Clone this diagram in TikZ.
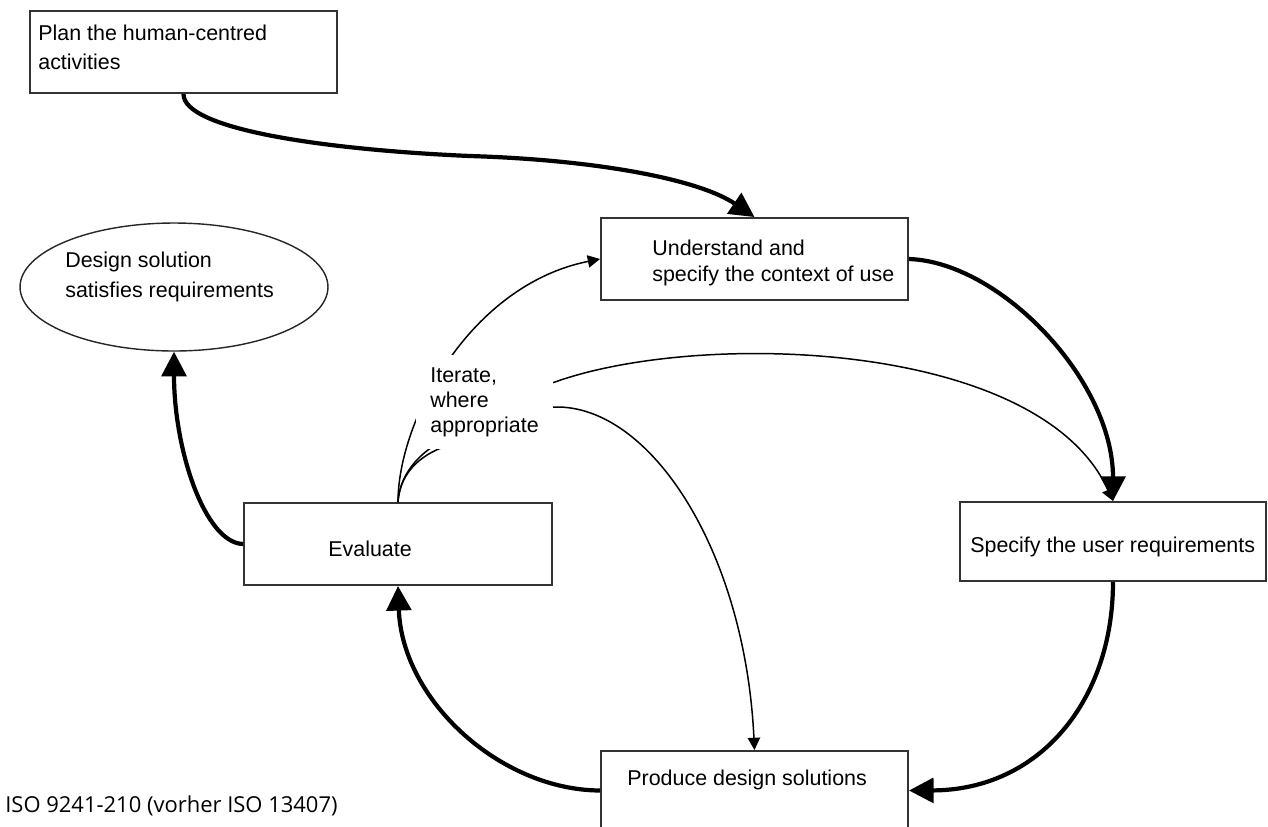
\documentclass[tikz,border=0pt]{standalone}
\usepackage{fontspec}
\setmainfont{Liberation Sans}
\newfontfamily\footfont{Open Sans}
\usetikzlibrary{arrows.meta,shapes.geometric}
\begin{document}
\begin{tikzpicture}[x=0.02cm,y=-0.02cm,
  box/.style={draw=black!80,line width=1.1pt,rectangle,inner sep=0},
  ellbox/.style={draw=black!85,line width=0.8pt,ellipse,inner sep=0},
  txt/.style={inner sep=0,anchor=west,align=left,font=\fontsize{12.2}{16.5}\selectfont},
  mainflow/.style={line width=2.4pt,-{Triangle[length=14pt,width=14pt]}},
  iterflow/.style={line width=0.85pt,-{Triangle[length=7pt,width=7pt]}}]
\clip (0,0) rectangle (1268,826);
\fill[white] (0,0) rectangle (1268,826);

% boxes
\node[box,minimum width=6.14cm,minimum height=1.64cm] (plan) at (183.5,52) {};
\node[box,minimum width=6.14cm,minimum height=1.64cm] (und) at (754.5,259) {};
\node[box,minimum width=6.12cm,minimum height=1.58cm] (spec) at (1113,541.5) {};
\node[box,minimum width=6.16cm,minimum height=1.64cm] (ev) at (398,544) {};
\node[box,minimum width=6.14cm,minimum height=1.58cm] (prod) at (754.5,790.5) {};
\node[ellbox,minimum width=6.16cm,minimum height=2.56cm] (ell) at (174,287) {};

% texts
\node[txt,font=\fontsize{12.2}{16.5}\selectfont] (plant) at (38,47.5) {Plan the human-centred\\activities};
\node[txt,font=\fontsize{12.2}{14.8}\selectfont] (undt) at (652,263) {Understand and\\specify the context of use};
\node[txt] (spect) at (970,547) {Specify the user requirements};
\node[txt] (evt) at (328,549) {Evaluate};
\node[txt] (prodt) at (627,780) {Produce design solutions};
\node[txt,font=\fontsize{12.2}{17}\selectfont] (ellt) at (65,277) {Design solution\\satisfies requirements};

% main cycle
\draw[mainflow] (plan.south) .. controls (183,130) and (330,150) .. (470,156)
  .. controls (600,160) and (700,180) .. (und.north);
\draw[mainflow] (und.east) .. controls (1000,262) and (1113,380) .. (spec.north);
\draw[mainflow] (spec.south) .. controls (1113,700) and (1040,790) .. (prod.east);
\draw[mainflow] (prod.west) .. controls (500,790) and (402,700) .. (ev.south);
\draw[mainflow] (ev.west) .. controls (205,543) and (174,450) .. (ell.south);

% iteration
\draw[iterflow] (ev.north) .. controls (398,420) and (470,285) .. (und.west);
\draw[iterflow] (ev.north) .. controls (400,470) and (425,448) .. (450,437)
  .. controls (490,418) and (520,392) .. (555,382)
  .. controls (700,330) and (1040,340) .. (spec.north);
\draw[iterflow] (ev.north) .. controls (400,470) and (425,452) .. (450,445)
  .. controls (490,432) and (520,407) .. (555,407)
  .. controls (650,405) and (745,550) .. (prod.north);

\node[txt,fill=white,inner xsep=0.28cm,inner ysep=0.24cm,font=\fontsize{12.2}{14.2}\selectfont,xshift=-0.28cm] (iter) at (430,402) {Iterate,\\where\\appropriate};

\node[inner sep=0,anchor=west,font=\footfont\fontsize{12.5}{15}\selectfont] (iso) at (5,806) {ISO 9241-210 (vorher ISO 13407)};
\end{tikzpicture}
\end{document}
